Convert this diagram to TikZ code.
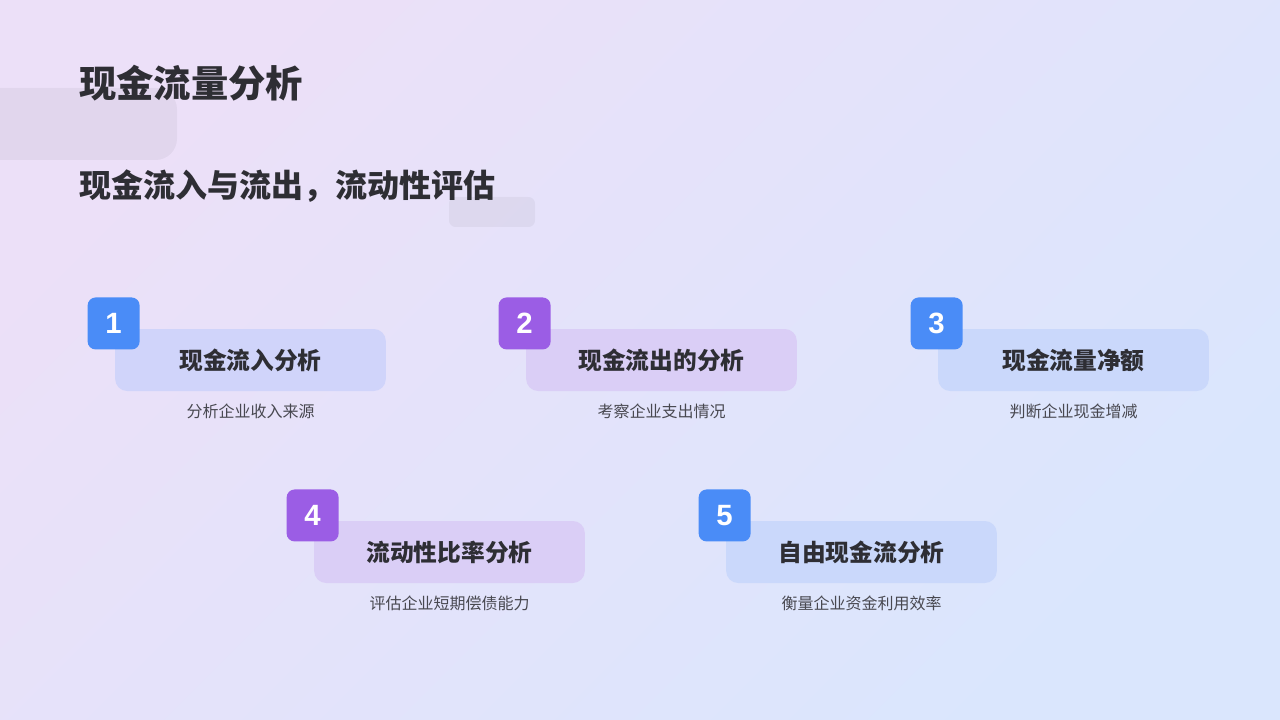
\documentclass[tikz,border=0pt]{standalone}
\usepackage{fontspec}
\setmainfont{Noto Sans CJK SC}
\newfontfamily\numfont{Liberation Sans}
\usepackage{tikz}
\usetikzlibrary{positioning,calc}
\usepackage{xcolor}
\definecolor{bgpink}{RGB}{236,224,248}
\definecolor{bgblue}{RGB}{218,230,253}
\definecolor{inkdark}{RGB}{46,46,52}
\definecolor{inkgray}{RGB}{72,72,80}
\definecolor{badgeblue}{RGB}{74,140,247}
\definecolor{badgepurple}{RGB}{155,93,229}
\definecolor{cardblue}{RGB}{202,216,251}
\definecolor{cardlilac}{RGB}{218,206,246}
\definecolor{cardmix}{RGB}{208,212,250}

\tikzset{
  card/.style={rounded corners=9pt, minimum width=203pt, minimum height=46.5pt,
    inner sep=0pt, text=inkdark, font=\fontsize{17.8}{20}\selectfont\bfseries},
  badge/.style={rounded corners=6pt, minimum width=39pt, minimum height=39pt,
    inner sep=0pt, text=white, font=\numfont\fontsize{22}{24}\selectfont\bfseries},
  desc/.style={text=inkgray, font=\fontsize{12}{14}\selectfont, inner sep=2pt},
  blob/.style={fill=black, fill opacity=0.045}
}

\begin{document}
\begin{tikzpicture}[x=0.75pt, y=-0.75pt]
\useasboundingbox (0,0) rectangle (1280,720);
\shade[top color=bgpink, bottom color=bgblue, shading angle=45] (0,0) rectangle (1280,720);

% decoration
\fill[blob, rounded corners=16pt] (-30,88) rectangle (177,160);
\fill[blob, rounded corners=5pt] (449,197) rectangle (535,227);

% headings
\node[anchor=west, text=inkdark, font=\fontsize{28}{30}\selectfont\bfseries, inner sep=0pt] (title) at (79,83) {现金流量分析};
\node[anchor=west, text=inkdark, font=\fontsize{24}{27}\selectfont\bfseries, inner sep=0pt] (subtitle) at (79,186) {现金流入与流出，流动性评估};

% first row
\node[card, fill=cardmix] (c1) at (250.5,360) {现金流入分析};
\node[card, fill=cardlilac] (c2) at (661.5,360) {现金流出的分析};
\node[card, fill=cardblue] (c3) at (1073.5,360) {现金流量净额};

% second row
\node[card, fill=cardlilac] (c4) at (449.5,552) {流动性比率分析};
\node[card, fill=cardblue] (c5) at (861.5,552) {自由现金流分析};

% badges
\node[badge, fill=badgeblue, anchor=south east] (b1) at ($(c1.north west)+(25,21)$) {1};
\node[badge, fill=badgepurple, anchor=south east] (b2) at ($(c2.north west)+(25,21)$) {2};
\node[badge, fill=badgeblue, anchor=south east] (b3) at ($(c3.north west)+(25,21)$) {3};
\node[badge, fill=badgepurple, anchor=south east] (b4) at ($(c4.north west)+(25,21)$) {4};
\node[badge, fill=badgeblue, anchor=south east] (b5) at ($(c5.north west)+(25,21)$) {5};

% descriptions
\node[desc, below=7pt of c1] (d1) {分析企业收入来源};
\node[desc, below=7pt of c2] (d2) {考察企业支出情况};
\node[desc, below=7pt of c3] (d3) {判断企业现金增减};
\node[desc, below=7pt of c4] (d4) {评估企业短期偿债能力};
\node[desc, below=7pt of c5] (d5) {衡量企业资金利用效率};
\end{tikzpicture}
\end{document}
